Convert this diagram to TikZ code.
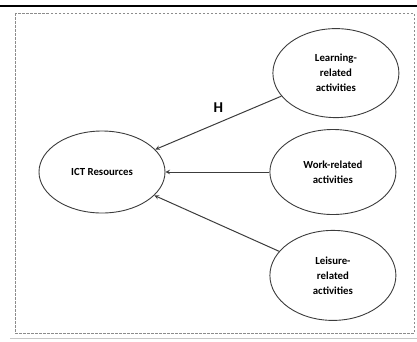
\documentclass[tikz,border=0pt]{standalone}
\usepackage{fontspec}
\setmainfont{Carlito}
\usetikzlibrary{shapes,arrows,positioning}
\definecolor{linegray}{RGB}{60,60,60}
\definecolor{framegray}{RGB}{140,140,140}

\begin{document}
\begin{tikzpicture}[
    x=1pt, y=-1pt,
    node distance=11pt and 104pt,
    activity/.style={ellipse, draw=linegray, line width=0.9pt, minimum width=126pt, minimum height=87pt, inner sep=0pt, align=center, font=\fontsize{10.8}{15}\selectfont\bfseries},
    arrow/.style={->, >=stealth, line width=1pt, draw=linegray},
    frame/.style={draw=framegray, line width=0.8pt, dash pattern=on 2.5pt off 1.5pt}
]
\useasboundingbox (0,0) rectangle (417,341);

% Frame
\draw[black, line width=1.5pt] (0,6) -- (417,6);
\draw[frame] (15,13) rectangle (414,333);
\draw[framegray!50, line width=0.8pt] (10,338.5) -- (417,338.5);

% Central construct
\node[activity, minimum height=82pt] (ict) at (102,172) {ICT Resources};

% Activity constructs
\node[activity, right=of ict, minimum height=85pt] (work) {Work-related\\activities};
\node[activity, above=of work, xshift=3pt, minimum height=89pt] (learning) {Learning-\\related\\activities};
\node[activity, below=15pt of work, minimum height=90pt] (leisure) {Leisure-\\related\\activities};

% Arrows
\draw[arrow] (learning) -- node[above=6pt, font=\fontsize{15}{18}\selectfont\bfseries] {H} (ict);
\draw[arrow] (work) -- (ict);
\draw[arrow] (leisure) -- (ict);

\end{tikzpicture}
\end{document}
